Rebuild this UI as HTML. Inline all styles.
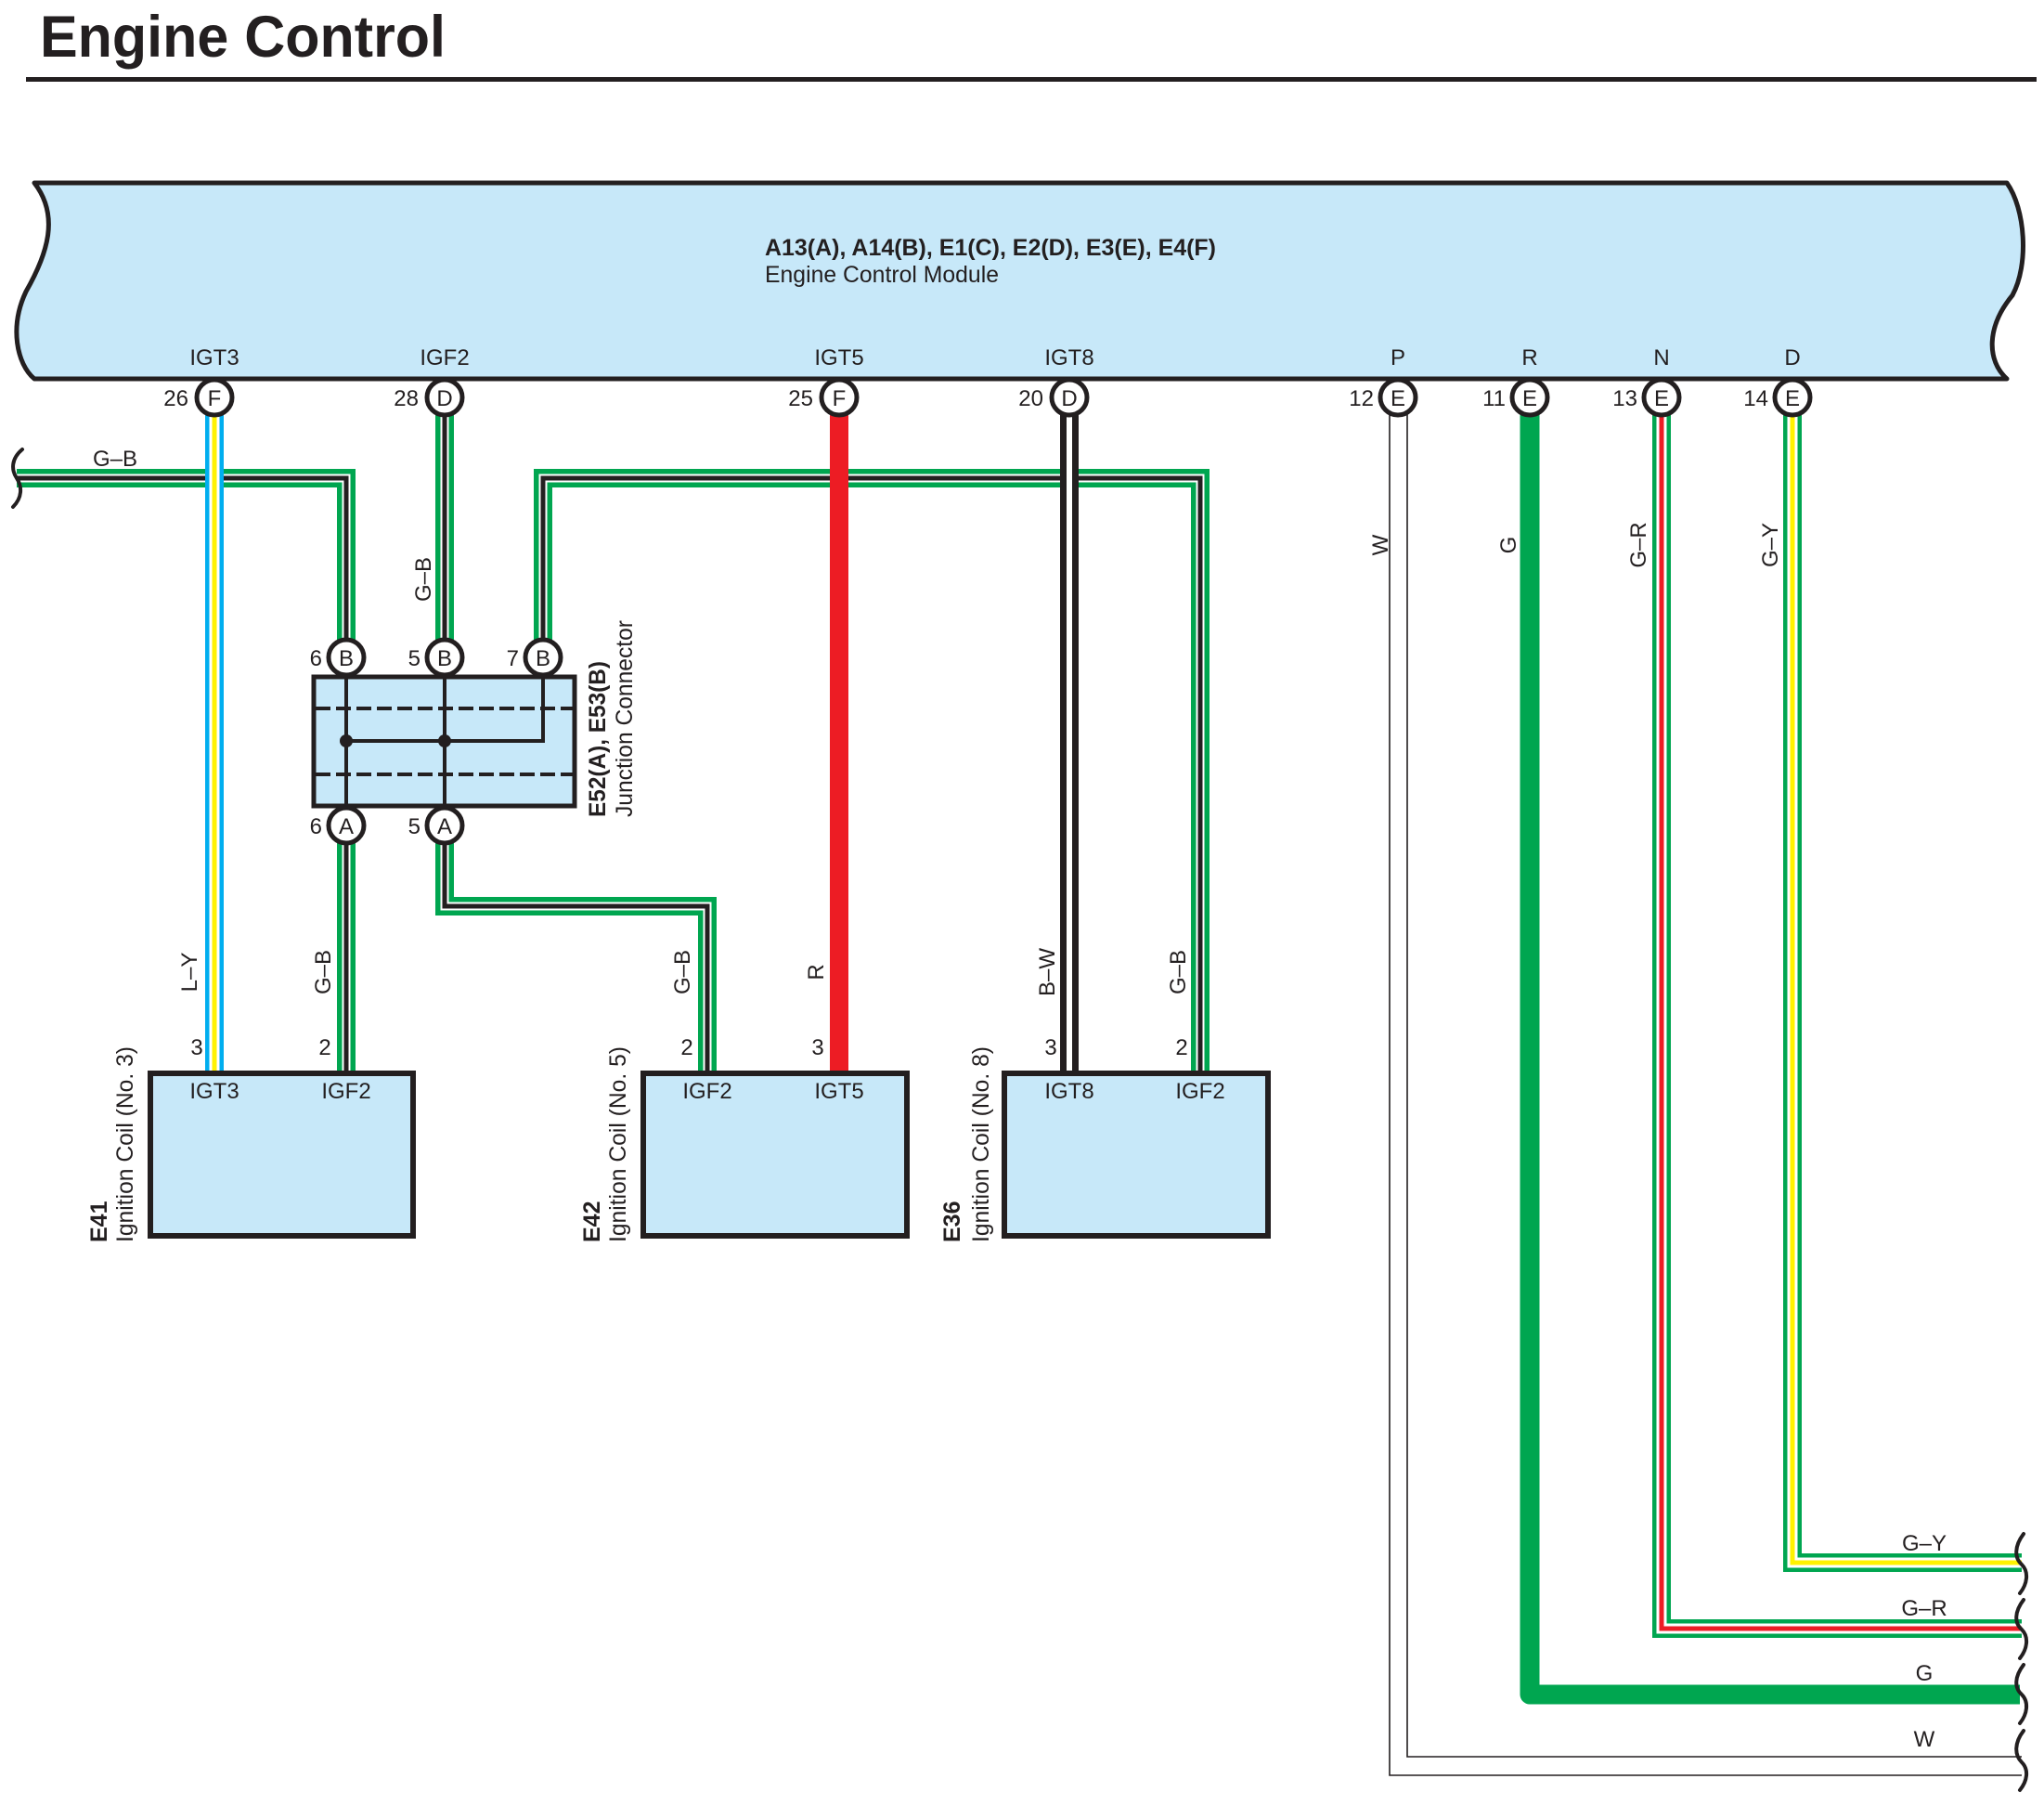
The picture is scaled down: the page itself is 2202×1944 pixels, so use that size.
<!DOCTYPE html>
<html><head><meta charset="utf-8"><style>
html,body{margin:0;padding:0;background:#fff;}
svg{display:block;}
text{font-family:"Liberation Sans",Arial,sans-serif;fill:#231f20;}
</style></head><body>
<svg width="2202" height="1944" viewBox="0 0 2202 1944" xmlns="http://www.w3.org/2000/svg">
<!-- Title -->
<text x="43" y="61" font-size="63" font-weight="bold" textLength="437" lengthAdjust="spacingAndGlyphs">Engine Control</text>
<rect x="28" y="83" width="2166" height="5" fill="#231f20"/>

<!-- ECM -->
<path d="M37,197 L2162,197 C2182,225 2186,285 2168,318 C2140,352 2140,388 2162,408 L37,408 C18,392 10,352 28,314 C52,272 64,232 37,197 Z" fill="#c7e8f9" stroke="#231f20" stroke-width="5" stroke-linejoin="round"/>
<text x="824" y="275" font-size="25" font-weight="bold" textLength="486" lengthAdjust="spacingAndGlyphs">A13(A), A14(B), E1(C), E2(D), E3(E), E4(F)</text>
<text x="824" y="304" font-size="25" textLength="252" lengthAdjust="spacingAndGlyphs">Engine Control Module</text>
<g font-size="24" text-anchor="middle">
<text x="231" y="393">IGT3</text><text x="479" y="393">IGF2</text>
<text x="904" y="393">IGT5</text><text x="1152" y="393">IGT8</text>
<text x="1506" y="393">P</text><text x="1648" y="393">R</text>
<text x="1790" y="393">N</text><text x="1931" y="393">D</text>
</g>

<!-- Wires -->
<g fill="none" stroke-linejoin="miter" stroke-linecap="butt">
<!-- G-B left -->
<polyline points="18,515 373,515 373,708" stroke="#00a650" stroke-width="20"/>
<polyline points="18,515 373,515 373,708" stroke="#fff" stroke-width="9"/>
<polyline points="18,515 373,515 373,708" stroke="#231f20" stroke-width="5"/>
<!-- G-B from D -->
<polyline points="479,428 479,708" stroke="#00a650" stroke-width="20"/>
<polyline points="479,428 479,708" stroke="#fff" stroke-width="9"/>
<polyline points="479,428 479,708" stroke="#231f20" stroke-width="5"/>
<!-- top G-B -->
<polyline points="585,708 585,515 1293,515 1293,1155" stroke="#00a650" stroke-width="20"/>
<polyline points="585,708 585,515 1293,515 1293,1155" stroke="#fff" stroke-width="9"/>
<polyline points="585,708 585,515 1293,515 1293,1155" stroke="#231f20" stroke-width="5"/>
<!-- G-B 6A -->
<polyline points="373,889 373,1155" stroke="#00a650" stroke-width="20"/>
<polyline points="373,889 373,1155" stroke="#fff" stroke-width="9"/>
<polyline points="373,889 373,1155" stroke="#231f20" stroke-width="5"/>
<!-- G-B 5A -->
<polyline points="479,889 479,976 762,976 762,1155" stroke="#00a650" stroke-width="20"/>
<polyline points="479,889 479,976 762,976 762,1155" stroke="#fff" stroke-width="9"/>
<polyline points="479,889 479,976 762,976 762,1155" stroke="#231f20" stroke-width="5"/>
<!-- L-Y -->
<line x1="231" y1="428" x2="231" y2="1155" stroke="#00aeef" stroke-width="20"/>
<line x1="231" y1="428" x2="231" y2="1155" stroke="#fff" stroke-width="11"/>
<line x1="231" y1="428" x2="231" y2="1155" stroke="#fff200" stroke-width="5"/>
<!-- R -->
<line x1="904" y1="428" x2="904" y2="1155" stroke="#ed1c24" stroke-width="20"/>
<!-- B-W -->
<line x1="1152" y1="428" x2="1152" y2="1155" stroke="#231f20" stroke-width="20"/>
<line x1="1152" y1="428" x2="1152" y2="1155" stroke="#fff" stroke-width="6"/>
<!-- W -->
<polyline points="1497,440 1497,1912 2178,1912" stroke="#231f20" stroke-width="1.6"/>
<polyline points="1516,440 1516,1892 2178,1892" stroke="#231f20" stroke-width="1.6"/>
<!-- G -->
<polyline points="1648,428 1648,1825 2176,1825" stroke="#00a650" stroke-width="21" stroke-linejoin="round"/>
<!-- G-R -->
<polyline points="1790,428 1790,1754 2178,1754" stroke="#00a650" stroke-width="20"/>
<polyline points="1790,428 1790,1754 2178,1754" stroke="#fff" stroke-width="11"/>
<polyline points="1790,428 1790,1754 2178,1754" stroke="#ed1c24" stroke-width="5"/>
<!-- G-Y -->
<polyline points="1931,428 1931,1683 2178,1683" stroke="#00a650" stroke-width="20"/>
<polyline points="1931,428 1931,1683 2178,1683" stroke="#fff" stroke-width="11"/>
<polyline points="1931,428 1931,1683 2178,1683" stroke="#fff200" stroke-width="5"/>
</g>

<!-- wavy breaks -->
<g fill="none" stroke="#231f20" stroke-width="4" stroke-linecap="round">
<path d="M24,484 C12,494 12,506 18,515 C24,524 24,536 14,546"/>
<path d="M2180,1652 C2170,1665 2170,1678 2178,1685 C2186,1693 2184,1706 2176,1716"/>
<path d="M2180,1723 C2170,1736 2170,1748 2178,1755 C2186,1763 2184,1776 2176,1786"/>
<path d="M2180,1793 C2170,1806 2170,1818 2178,1825 C2186,1833 2184,1846 2176,1856"/>
<path d="M2180,1864 C2170,1877 2170,1890 2178,1898 C2186,1906 2184,1918 2176,1928"/>
</g>

<!-- Junction connector -->
<rect x="338" y="729" width="281" height="139" fill="#c7e8f9" stroke="#231f20" stroke-width="5"/>
<g stroke="#231f20" stroke-width="4" fill="none">
<line x1="340" y1="763" x2="618" y2="763" stroke-dasharray="16,6"/>
<line x1="340" y1="834" x2="618" y2="834" stroke-dasharray="16,6"/>
<line x1="373" y1="727" x2="373" y2="869"/>
<line x1="479" y1="727" x2="479" y2="869"/>
<polyline points="373,798 585,798 585,727"/>
</g>
<circle cx="373" cy="798" r="7" fill="#231f20"/>
<circle cx="479" cy="798" r="7" fill="#231f20"/>

<!-- Coils -->
<g fill="#c7e8f9" stroke="#231f20" stroke-width="6">
<rect x="162" y="1156" width="283" height="175"/>
<rect x="693" y="1156" width="284" height="175"/>
<rect x="1082" y="1156" width="284" height="175"/>
</g>
<g font-size="24" text-anchor="middle">
<text x="231" y="1183">IGT3</text><text x="373" y="1183">IGF2</text>
<text x="762" y="1183">IGF2</text><text x="904" y="1183">IGT5</text>
<text x="1152" y="1183">IGT8</text><text x="1293" y="1183">IGF2</text>
<text x="212" y="1136">3</text><text x="350" y="1136">2</text>
<text x="740" y="1136">2</text><text x="881" y="1136">3</text>
<text x="1132" y="1136">3</text><text x="1273" y="1136">2</text>
</g>

<!-- Pins -->
<g fill="#fff" stroke="#231f20" stroke-width="5">
<circle cx="231" cy="428" r="19"/><circle cx="479" cy="428" r="19"/>
<circle cx="904" cy="428" r="19"/><circle cx="1152" cy="428" r="19"/>
<circle cx="1506" cy="428" r="19"/><circle cx="1648" cy="428" r="19"/>
<circle cx="1790" cy="428" r="19"/><circle cx="1931" cy="428" r="19"/>
<circle cx="373" cy="708" r="19"/><circle cx="479" cy="708" r="19"/><circle cx="585" cy="708" r="19"/>
<circle cx="373" cy="889" r="19"/><circle cx="479" cy="889" r="19"/>
</g>
<g font-size="24" text-anchor="middle">
<text x="231" y="437">F</text><text x="479" y="437">D</text>
<text x="904" y="437">F</text><text x="1152" y="437">D</text>
<text x="1506" y="437">E</text><text x="1648" y="437">E</text>
<text x="1790" y="437">E</text><text x="1931" y="437">E</text>
<text x="373" y="717">B</text><text x="479" y="717">B</text><text x="585" y="717">B</text>
<text x="373" y="898">A</text><text x="479" y="898">A</text>
</g>
<g font-size="24" text-anchor="end">
<text x="203" y="437">26</text><text x="451" y="437">28</text>
<text x="876" y="437">25</text><text x="1124" y="437">20</text>
<text x="1480" y="437">12</text><text x="1622" y="437">11</text>
<text x="1764" y="437">13</text><text x="1905" y="437">14</text>
<text x="347" y="717">6</text><text x="453" y="717">5</text><text x="559" y="717">7</text>
<text x="347" y="898">6</text><text x="453" y="898">5</text>
</g>

<!-- Wire labels horizontal -->
<g font-size="24" text-anchor="middle">
<text x="124" y="502">G–B</text>
<text x="2073" y="1670">G–Y</text>
<text x="2073" y="1740">G–R</text>
<text x="2073" y="1810">G</text>
<text x="2073" y="1881">W</text>
</g>
<!-- Wire labels vertical -->
<g font-size="24" text-anchor="middle">
<text transform="translate(464,624) rotate(-90)">G–B</text>
<text transform="translate(212,1047) rotate(-90)">L–Y</text>
<text transform="translate(356,1047) rotate(-90)">G–B</text>
<text transform="translate(743,1047) rotate(-90)">G–B</text>
<text transform="translate(887,1047) rotate(-90)">R</text>
<text transform="translate(1136,1047) rotate(-90)">B–W</text>
<text transform="translate(1277,1047) rotate(-90)">G–B</text>
<text transform="translate(1495,587) rotate(-90)">W</text>
<text transform="translate(1633,587) rotate(-90)">G</text>
<text transform="translate(1773,587) rotate(-90)">G–R</text>
<text transform="translate(1915,587) rotate(-90)">G–Y</text>
</g>
<!-- Component side labels -->
<g font-size="25">
<text transform="translate(115,1338) rotate(-90)" font-weight="bold">E41</text>
<text transform="translate(143,1338) rotate(-90)" textLength="211" lengthAdjust="spacingAndGlyphs">Ignition Coil (No. 3)</text>
<text transform="translate(646,1338) rotate(-90)" font-weight="bold">E42</text>
<text transform="translate(674,1338) rotate(-90)" textLength="211" lengthAdjust="spacingAndGlyphs">Ignition Coil (No. 5)</text>
<text transform="translate(1034,1338) rotate(-90)" font-weight="bold">E36</text>
<text transform="translate(1065,1338) rotate(-90)" textLength="211" lengthAdjust="spacingAndGlyphs">Ignition Coil (No. 8)</text>
<text transform="translate(652,880) rotate(-90)" font-weight="bold" textLength="168" lengthAdjust="spacingAndGlyphs">E52(A), E53(B)</text>
<text transform="translate(681,880) rotate(-90)" textLength="212" lengthAdjust="spacingAndGlyphs">Junction Connector</text>
</g>
</svg>
</body></html>
